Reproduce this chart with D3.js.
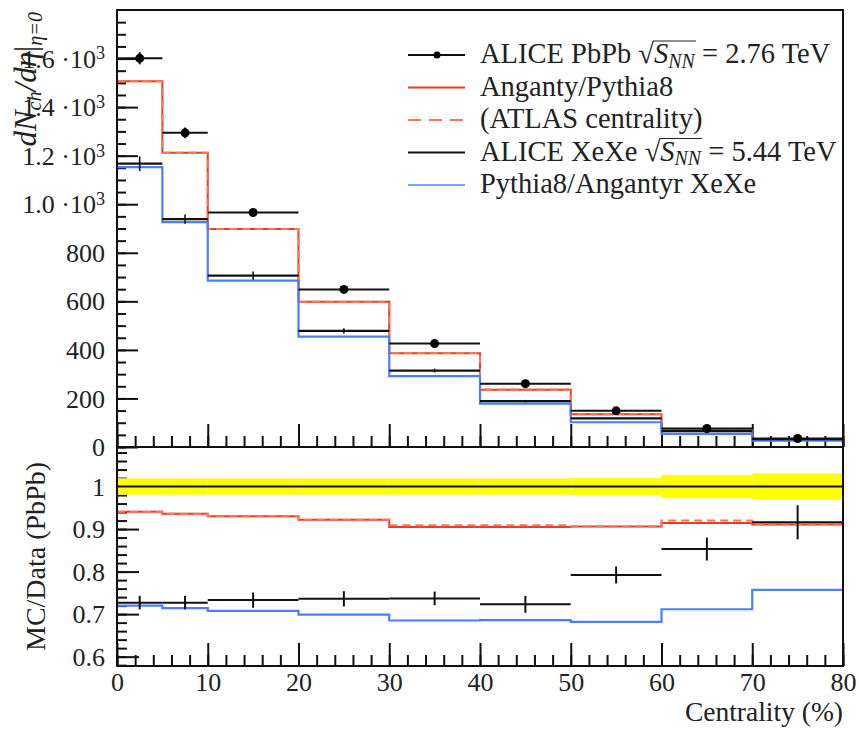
<!DOCTYPE html>
<html lang="en">
<head>
<meta charset="UTF-8">
<title>dNch/deta vs centrality</title>
<script src="https://d3js.org/d3.v7.min.js"></script>
<style>
  body { margin: 0; background: #fff; }
  svg { display: block; }
  text { font-family: "Liberation Serif", "DejaVu Serif", serif; fill: #222; }
  .tick line { stroke: #111; stroke-width: 2px; }
</style>
</head>
<body>
<svg width="859" height="731"></svg>
<script>
// bins (centrality %)
const binEdges = [0, 5, 10, 20, 30, 40, 50, 60, 70, 80];

// ALICE PbPb 2.76 TeV
const pbpbData = [1601, 1294, 966, 649, 426, 261, 149, 76, 35];
const pbpbErr  = [25, 22, 16, 12, 9, 6, 4, 2, 1.5];
// Angantyr / Pythia8 PbPb (solid) and ATLAS centrality (dashed)
const angantyrPb     = [1507, 1212, 898, 598, 386, 236, 135, 69.5, 32];
const angantyrPbAtlas = [1507, 1212, 898, 598, 387, 237, 135, 70, 32];
// ALICE XeXe 5.44 TeV
const xexeData = [1167, 939, 706, 478, 315, 189, 118, 65, 32];
const xexeErr  = [30, 19, 17, 11, 8, 5, 3, 2, 1.3];
// Pythia8/Angantyr XeXe
const angantyrXe = [1153, 926, 685, 455, 292, 179, 102, 54, 26];

// ratio panel (MC/Data PbPb)
const bandHalf        = [0.019, 0.019, 0.019, 0.019, 0.019, 0.019, 0.02, 0.027, 0.03];
const ratioPb         = [0.941, 0.936, 0.930, 0.922, 0.905, 0.905, 0.906, 0.914, 0.911];
const ratioPbAtlas    = [0.941, 0.936, 0.930, 0.922, 0.909, 0.909, 0.906, 0.920, 0.911];
const ratioXeData     = [0.727, 0.727, 0.733, 0.736, 0.737, 0.723, 0.792, 0.853, 0.916];
const ratioXeErr      = [0.016, 0.016, 0.018, 0.018, 0.016, 0.02, 0.02, 0.027, 0.04];
const ratioXeMC       = [0.720, 0.714, 0.7075, 0.699, 0.685, 0.686, 0.682, 0.7115, 0.757];

const yTopMajor = [0, 200, 400, 600, 800, 1000, 1200, 1400, 1600];
const yRatioMajor = [0.6, 0.7, 0.8, 0.9, 1.0];
const xMajor = [0, 10, 20, 30, 40, 50, 60, 70, 80];

const RED = "#f03a1c", RED_DASH = "#f7765c", BLUE = "#4d7dff";
const FS = 26, FS_LEG = 28.5, FS_TITLE = 28;

const svg = d3.select("svg");
const L = 117, R = 843, T = 10, MID = 447, B = 666;

const x = d3.scaleLinear().domain([0, 80]).range([L, R]);
const y = d3.scaleLinear().domain([0, 1800]).range([MID, T]);
const yr = d3.scaleLinear().domain([0.578, 1.093]).range([B, MID]);

const bins = pbpbData.map((v, i) => ({ lo: binEdges[i], hi: binEdges[i + 1], mid: (binEdges[i] + binEdges[i + 1]) / 2, i: i }));

function stepPts(vals) {
  return binEdges.map((e, i) => [e, vals[Math.min(i, vals.length - 1)]]);
}
function stepLine(ys) {
  return d3.line().x(d => x(d[0])).y(d => ys(d[1])).curve(d3.curveStepAfter);
}

// ---------- axes ----------
function minorTicks(lo, hi, step) {
  const out = [];
  for (let v = lo; v <= hi + 1e-9; v += step) out.push(+v.toFixed(4));
  return out;
}

// top panel y axis
svg.append("g").attr("transform", `translate(${L},0)`)
  .call(d3.axisLeft(y).tickValues(minorTicks(0, 1750, 50)).tickSize(-9).tickFormat(""))
  .call(g => g.select(".domain").remove());
const yTopAx = svg.append("g").attr("transform", `translate(${L},0)`)
  .call(d3.axisLeft(y).tickValues(yTopMajor).tickSize(-21).tickPadding(12).tickFormat(""))
  .call(g => g.select(".domain").remove());
yTopAx.selectAll(".tick text").each(function (d) {
  const t = d3.select(this).attr("font-size", FS).attr("dy", "0.33em").attr("fill", "#222");
  if (d >= 1000) {
    t.text((d / 1000).toFixed(1) + " \u00b710");
    t.append("tspan").attr("dy", "-0.45em").attr("font-size", "70%").text("3");
  } else {
    t.text(d);
  }
});

// top panel x ticks (no labels)
svg.append("g").attr("transform", `translate(0,${MID})`)
  .call(d3.axisBottom(x).tickValues(minorTicks(0, 80, 2)).tickSize(-11).tickFormat(""))
  .call(g => g.select(".domain").remove());
svg.append("g").attr("transform", `translate(0,${MID})`)
  .call(d3.axisBottom(x).tickValues(xMajor).tickSize(-23).tickFormat(""))
  .call(g => g.select(".domain").remove());

// ratio panel y axis
svg.append("g").attr("transform", `translate(${L},0)`)
  .call(d3.axisLeft(yr).tickValues(minorTicks(0.58, 1.08, 0.02)).tickSize(-10).tickFormat(""))
  .call(g => g.select(".domain").remove());
svg.append("g").attr("transform", `translate(${L},0)`)
  .call(d3.axisLeft(yr).tickValues(yRatioMajor).tickSize(-22).tickPadding(12)
    .tickFormat(d => d === 1 ? "1" : d.toFixed(1)))
  .call(g => g.select(".domain").remove())
  .call(g => g.selectAll(".tick text").attr("font-size", FS).attr("dy", "0.33em").attr("fill", "#222"));

// ratio panel x axis
svg.append("g").attr("transform", `translate(0,${B})`)
  .call(d3.axisBottom(x).tickValues(minorTicks(0, 80, 2)).tickSize(-11).tickFormat(""))
  .call(g => g.select(".domain").remove());
svg.append("g").attr("transform", `translate(0,${B})`)
  .call(d3.axisBottom(x).tickValues(xMajor).tickSize(-23).tickPadding(7))
  .call(g => g.select(".domain").remove())
  .call(g => g.selectAll(".tick text").attr("font-size", FS).attr("fill", "#222"));

// ---------- top panel ----------
const gTop = svg.append("g");

gTop.append("path").datum(stepPts(angantyrPb))
  .attr("d", stepLine(y)).attr("fill", "none").attr("stroke", RED).attr("stroke-width", 2);
gTop.append("path").datum(stepPts(angantyrPbAtlas))
  .attr("d", stepLine(y)).attr("fill", "none").attr("stroke", RED_DASH).attr("stroke-width", 2)
  .attr("stroke-dasharray", "8,5");
gTop.append("path").datum(stepPts(angantyrXe))
  .attr("d", stepLine(y)).attr("fill", "none").attr("stroke", BLUE).attr("stroke-width", 2.2);

// XeXe data: horizontal bars + small error ticks
gTop.selectAll(".xeh").data(bins).enter().append("line")
  .attr("x1", d => x(d.lo)).attr("x2", d => x(d.hi))
  .attr("y1", d => y(xexeData[d.i])).attr("y2", d => y(xexeData[d.i]))
  .attr("stroke", "#111").attr("stroke-width", 2.2);
gTop.selectAll(".xev").data(bins).enter().append("line")
  .attr("x1", d => x(d.mid)).attr("x2", d => x(d.mid))
  .attr("y1", d => y(xexeData[d.i] - xexeErr[d.i])).attr("y2", d => y(xexeData[d.i] + xexeErr[d.i]))
  .attr("stroke", "#111").attr("stroke-width", 1.6);

// PbPb data points
gTop.selectAll(".pbh").data(bins).enter().append("line")
  .attr("x1", d => x(d.lo)).attr("x2", d => x(d.hi))
  .attr("y1", d => y(pbpbData[d.i])).attr("y2", d => y(pbpbData[d.i]))
  .attr("stroke", "#111").attr("stroke-width", 2);
gTop.selectAll(".pbv").data(bins).enter().append("line")
  .attr("x1", d => x(d.mid)).attr("x2", d => x(d.mid))
  .attr("y1", d => y(pbpbData[d.i] - pbpbErr[d.i])).attr("y2", d => y(pbpbData[d.i] + pbpbErr[d.i]))
  .attr("stroke", "#111").attr("stroke-width", 2);
gTop.selectAll(".pbc").data(bins).enter().append("circle")
  .attr("cx", d => x(d.mid)).attr("cy", d => y(pbpbData[d.i])).attr("r", 4.5).attr("fill", "#000");

// ---------- ratio panel ----------
const gRat = svg.append("g");
gRat.selectAll(".band").data(bins).enter().append("rect")
  .attr("x", d => x(d.lo)).attr("width", d => x(d.hi) - x(d.lo))
  .attr("y", d => yr(1 + bandHalf[d.i])).attr("height", d => yr(1 - bandHalf[d.i]) - yr(1 + bandHalf[d.i]))
  .attr("fill", "#ffff00").attr("stroke", "#f4f47a").attr("stroke-width", 0.6);
gRat.append("line").attr("x1", x(0)).attr("x2", x(80)).attr("y1", yr(1)).attr("y2", yr(1))
  .attr("stroke", "#111").attr("stroke-width", 2);

gRat.append("path").datum(stepPts(ratioPb))
  .attr("d", stepLine(yr)).attr("fill", "none").attr("stroke", RED).attr("stroke-width", 2);
gRat.append("path").datum(stepPts(ratioPbAtlas))
  .attr("d", stepLine(yr)).attr("fill", "none").attr("stroke", RED_DASH).attr("stroke-width", 2)
  .attr("stroke-dasharray", "8,5");
gRat.append("path").datum(stepPts(ratioXeMC))
  .attr("d", stepLine(yr)).attr("fill", "none").attr("stroke", BLUE).attr("stroke-width", 2.2);

gRat.selectAll(".rxh").data(bins).enter().append("line")
  .attr("x1", d => x(d.lo)).attr("x2", d => x(d.hi))
  .attr("y1", d => yr(ratioXeData[d.i])).attr("y2", d => yr(ratioXeData[d.i]))
  .attr("stroke", "#111").attr("stroke-width", 2);
gRat.selectAll(".rxv").data(bins).enter().append("line")
  .attr("x1", d => x(d.mid)).attr("x2", d => x(d.mid))
  .attr("y1", d => yr(ratioXeData[d.i] - ratioXeErr[d.i])).attr("y2", d => yr(ratioXeData[d.i] + ratioXeErr[d.i]))
  .attr("stroke", "#111").attr("stroke-width", 2);

// ---------- frames ----------
svg.append("rect").attr("x", L).attr("y", T).attr("width", R - L).attr("height", MID - T)
  .attr("fill", "none").attr("stroke", "#111").attr("stroke-width", 2);
svg.append("rect").attr("x", L).attr("y", MID).attr("width", R - L).attr("height", B - MID)
  .attr("fill", "none").attr("stroke", "#111").attr("stroke-width", 2);

// ---------- axis titles ----------
const yt = svg.append("text").attr("font-size", 31)
  .attr("transform", "translate(36,12) rotate(-90)").attr("text-anchor", "end");
yt.append("tspan").attr("font-style", "italic").text("dN");
yt.append("tspan").attr("font-style", "italic").attr("font-size", "65%").attr("dy", "0.25em").text("ch");
yt.append("tspan").attr("font-style", "italic").attr("dy", "-0.16em").text("/d\u03b7");
yt.append("tspan").text("|");
yt.append("tspan").attr("font-style", "italic").attr("font-size", "65%").attr("dy", "0.3em").text("\u03b7=0");

svg.append("text").attr("font-size", FS_TITLE).attr("text-anchor", "middle")
  .attr("transform", `translate(45,${(MID + B) / 2}) rotate(-90)`).text("MC/Data (PbPb)");

svg.append("text").attr("font-size", 27.5).attr("text-anchor", "end")
  .attr("x", R).attr("y", 721).text("Centrality (%)");

// ---------- legend ----------
const legendItems = [
  { kind: "data", parts: ["ALICE PbPb ", "2.76"] },
  { kind: "red", text: "Anganty/Pythia8" },
  { kind: "reddash", text: "(ATLAS centrality)" },
  { kind: "black", parts: ["ALICE XeXe ", "5.44"] },
  { kind: "blue", text: "Pythia8/Angantyr XeXe" }
];
const lg = svg.append("g");
legendItems.forEach((it, i) => {
  const base = 63 + i * 32.5, my = base - 8;
  const stroke = { data: "#111", red: RED, reddash: RED_DASH, black: "#111", blue: "#7ea2ff" }[it.kind];
  const ln = lg.append("line").attr("x1", 408).attr("x2", 465).attr("y1", my).attr("y2", my)
    .attr("stroke", stroke).attr("stroke-width", 2);
  if (it.kind === "reddash") ln.attr("stroke-dasharray", "13,8");
  if (it.kind === "data") lg.append("circle").attr("cx", 437).attr("cy", my).attr("r", 3.5).attr("fill", "#000");

  const t = lg.append("text").attr("x", 480).attr("y", base).attr("font-size", FS_LEG);
  if (it.parts) {
    t.append("tspan").text(it.parts[0]);
    t.append("tspan").text("\u221a");
    t.append("tspan").attr("font-style", "italic").text("S");
    t.append("tspan").attr("font-style", "italic").attr("font-size", "70%").attr("dy", "0.25em").text("NN");
    t.append("tspan").attr("dy", "-0.175em").text(" = " + it.parts[1] + " TeV");
    // overline of the square root
    const node = t.node();
    const full = node.textContent;
    const iS = full.indexOf("\u221a");
    const iEnd = full.indexOf("NN") + 1;
    const x0 = node.getStartPositionOfChar(iS + 1).x;
    const x1 = node.getEndPositionOfChar(iEnd).x;
    lg.append("line").attr("x1", x0 - 1).attr("x2", x1 + 1).attr("y1", base - 22).attr("y2", base - 22)
      .attr("stroke", "#222").attr("stroke-width", 1.2);
  } else {
    t.text(it.text);
  }
});
</script>
</body>
</html>
